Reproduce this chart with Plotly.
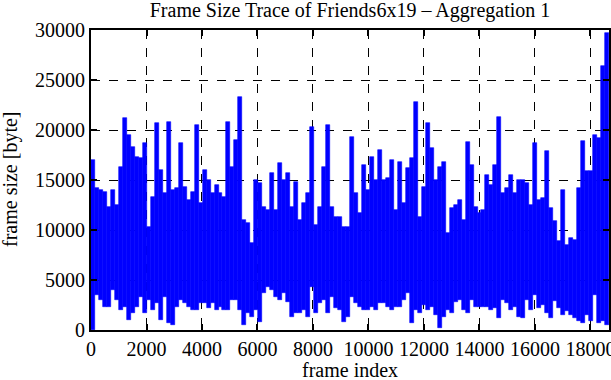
import plotly.graph_objects as go

# Frame size trace (max / min frame size)
BIN_FRAMES = 143.6          # frames per bin (~4 px of the original)
TOTAL_FRAMES = 18668

highs = [
    17000, 14200, 14000, 13800, 12300, 14000, 12500, 16300, 21200, 19500,
    18300, 17300, 17200, 18700, 10300, 13300, 20700, 16000, 13700,
    20800, 14000, 14200, 18700, 14300, 13000, 13800, 20500, 12700, 16000,
    15000, 13700, 14500, 13700, 13300, 20800, 16300, 19000,
    23300, 11000, 10700, 8700, 15000, 14700, 12300, 12000, 15700, 12000,
    16700, 15000, 15700, 12300, 14800, 11000, 12700, 13700, 20300,
    10500, 12300, 16300, 20500, 12300, 11300, 11300, 10300, 10300, 19300,
    13700, 11700, 16500, 14000, 17300, 15000, 18000, 15000,
    15200, 17000, 12000, 16800, 12700, 16200, 17200, 22800, 11300, 14300,
    20700, 18200, 15000, 16300, 16800, 9700, 12200, 12500, 13000,
    11000, 18800, 16500, 12300, 11700, 12000, 15500, 14500, 16500, 21300,
    13700, 14200, 15500, 13700, 15000, 15000, 14700, 12500,
    18700, 13000, 13200, 17900, 12200, 10900, 8900, 14000, 8500, 9200,
    9000, 14200, 18900, 15900, 15900, 19500, 19200, 26400, 29700,
]
lows = [
    0, 3500, 3000, 2300, 2300, 4000, 3000, 2000, 2300, 1000,
    1700, 2300, 3300, 1700, 3000, 2000, 2700, 1000, 3300,
    700, 500, 2300, 3000, 2700, 2300, 2000, 2000, 2700, 2700,
    2200, 2700, 2000, 2300, 2000, 2000, 3000, 3000,
    2000, 500, 1700, 1300, 2000, 800, 3700, 4300, 4000, 3300,
    3000, 3700, 2800, 1300, 1700, 1700, 2000, 1300, 4300,
    1700, 2700, 3000, 1700, 3300, 2200, 2000, 800, 1300, 3300,
    2700, 2300, 2000, 2000, 2300, 2000, 2700, 2700,
    2300, 2000, 2300, 2300, 3000, 3700, 700, 2000, 1700, 2500,
    2000, 2300, 1500, 200, 1300, 2000, 1700, 2800, 3000,
    2000, 1700, 3000, 2300, 2300, 2300, 2300, 2000, 2200, 1200,
    3000, 2700, 2000, 2300, 1300, 1200, 3000, 2000,
    3500, 2200, 2500, 1700, 1200, 2900, 2200, 1500, 1900, 1500,
    1200, 900, 700, 1500, 900, 3500, 700, 900, 500,
]

x_ticks = list(range(0, 18001, 2000))
y_ticks = list(range(0, 30001, 5000))

centers = [(i + 0.5) * BIN_FRAMES for i in range(len(highs))]
spans = [h - l for h, l in zip(highs, lows)]

FONT = "Liberation Serif"
FS = 20

fig = go.Figure()
fig.add_trace(go.Bar(
    x=centers, y=spans, base=lows, width=BIN_FRAMES,
    marker=dict(color="#0000ff", line=dict(color="#0000ff", width=0.6)),
    showlegend=False, hoverinfo="skip",
))

axis_common = dict(
    showline=True, linecolor="black", linewidth=2, mirror="ticks",
    ticks="inside", ticklen=6, tickwidth=2, tickcolor="black",
    showgrid=True, gridcolor="black", griddash="dash", gridwidth=1,
    zeroline=False, automargin=False, ticklabeloverflow="allow",
    tickfont=dict(family=FONT, size=FS, color="black"),
)

fig.update_xaxes(range=[0, TOTAL_FRAMES], tickvals=x_ticks,
                 ticktext=[str(v) for v in x_ticks], **axis_common)
fig.update_yaxes(range=[0, 30000], tickvals=y_ticks,
                 ticktext=[str(v) for v in y_ticks], **axis_common)

fig.update_layout(
    width=611, height=380,
    margin=dict(l=91, r=2, t=30, b=50, autoexpand=False),
    paper_bgcolor="white", plot_bgcolor="white",
    bargap=0,
    font=dict(family=FONT, size=FS, color="black"),
    title=dict(text="Frame Size Trace of Friends6x19 \u2013 Aggregation 1",
               x=0.5, xref="paper", xanchor="center",
               y=0.993, yref="container", yanchor="top",
               font=dict(family=FONT, size=FS, color="black")),
    annotations=[
        dict(text="frame index", xref="paper", yref="paper",
             x=0.5, y=-(370 - 330) / 300,
             xanchor="center", yanchor="middle", showarrow=False,
             font=dict(family=FONT, size=FS, color="black")),
        dict(text="frame size [byte]", xref="paper", yref="paper",
             x=-(91 - 10) / 518, y=0.5, textangle=-90,
             xanchor="center", yanchor="middle", showarrow=False,
             font=dict(family=FONT, size=FS, color="black")),
    ],
)

fig.write_html("out.html", config={"displayModeBar": False},
               post_script="document.body.style.margin='0px';")
